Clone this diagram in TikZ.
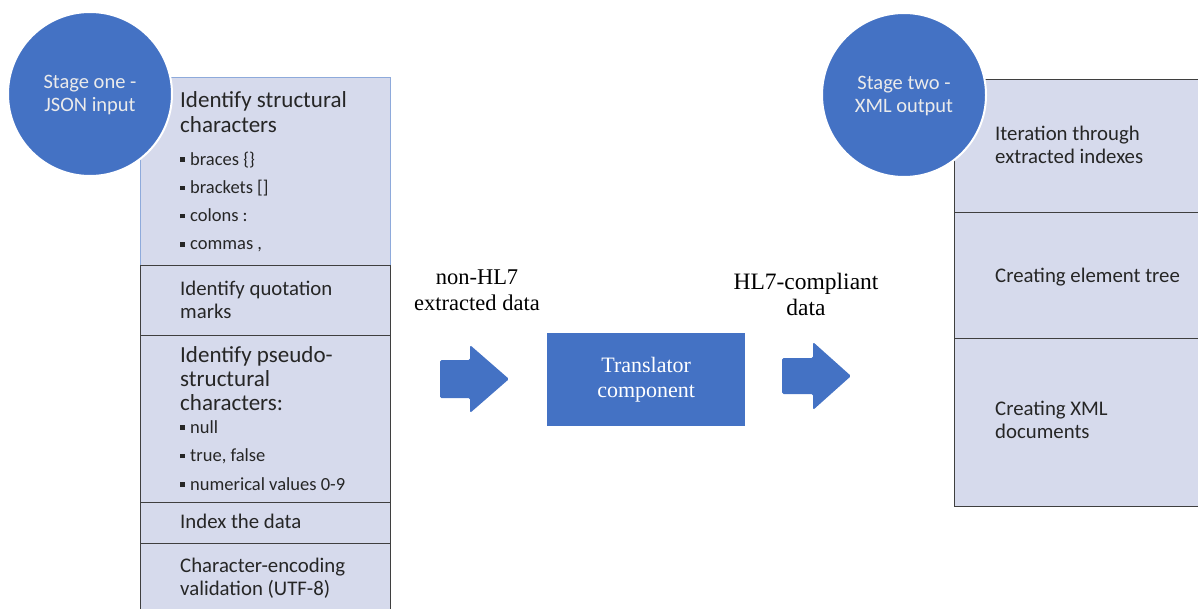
\documentclass[tikz,border=0pt]{standalone}
\usepackage{fontspec}
\setmainfont{Carlito}
\newfontfamily\timesf{Liberation Serif}
\definecolor{cblue}{HTML}{4472C4}
\definecolor{boxfill}{HTML}{D6DAEC}
\definecolor{boxline}{HTML}{3F3F3F}
\definecolor{lblue}{HTML}{8EAADB}
\definecolor{txt}{HTML}{262626}
\newcommand\bul{\rule[0.18em]{0.24em}{0.24em}\hspace{0.3em}}
\begin{document}
\begin{tikzpicture}[x=1pt,y=-1pt,
  sec/.style={draw=boxline, line width=1.4pt, fill=boxfill, rectangle, inner sep=0pt, anchor=north west},
  secblue/.style={sec, draw=lblue},
  stagecirc/.style={circle, fill=cblue, draw=white, line width=2pt, minimum size=164pt, inner sep=0pt},
  ctext/.style={text=white!92!black, font=\fontsize{20.5}{23}\selectfont, align=center},
  lbl/.style={inner sep=0pt, anchor=base west, text=txt},
  serif/.style={font=\timesf\fontsize{22.5}{26}\selectfont, align=center, text=black},
  blockarrow/.style={fill=cblue, rounded corners=1.5pt}
]
\useasboundingbox (0,0) rectangle (1198,608);
\clip (0,0) rectangle (1198,608);

% left column
\node[secblue, minimum width=250pt, minimum height=188pt] (s1) at (140,77) {};
\node[sec, minimum width=250pt, minimum height=70pt] (s2) at (140,265) {};
\node[sec, minimum width=250pt, minimum height=167pt] (s3) at (140,335) {};
\node[sec, minimum width=250pt, minimum height=41pt] (s4) at (140,502) {};
\node[sec, minimum width=250pt, minimum height=75pt] (s5) at (140,543) {};

\node[lbl, font=\fontsize{23}{25}\selectfont] (t1) at (180,107)
  {\vtop{\hbox{Identify structural}\hbox{characters}}};
\node[lbl, font=\fontsize{18.5}{28.3}\selectfont] (t1b) at (180,165)
  {\vtop{\hbox{\bul braces \{\}}\hbox{\bul brackets []}\hbox{\bul colons :}\hbox{\bul commas ,}}};
\node[lbl, font=\fontsize{20.8}{23}\selectfont] (t2) at (180,295)
  {\vtop{\hbox{Identify quotation}\hbox{marks}}};
\node[lbl, font=\fontsize{23}{24}\selectfont] (t3) at (180,362)
  {\vtop{\hbox{Identify pseudo-}\hbox{structural}\hbox{characters:}}};
\node[lbl, font=\fontsize{18.5}{28.5}\selectfont] (t3b) at (180,433)
  {\vtop{\hbox{\bul null}\hbox{\bul true, false}\hbox{\bul numerical values 0-9}}};
\node[lbl, font=\fontsize{20.8}{23}\selectfont] (t4) at (180,528) {Index the data};
\node[lbl, font=\fontsize{20.8}{23}\selectfont] (t5) at (180,572)
  {\vtop{\hbox{Character-encoding}\hbox{validation (UTF-8)}}};

\node[stagecirc] (c1) at (90,94) {};
\node[ctext] (c1t) at (90,95) {Stage one -\\JSON input};

% right column
\node[sec, minimum width=260pt, minimum height=133pt] (r1) at (954,79) {};
\node[sec, minimum width=260pt, minimum height=126pt] (r2) at (954,212) {};
\node[sec, minimum width=260pt, minimum height=168pt] (r3) at (954,338) {};

\node[lbl, font=\fontsize{20.8}{23}\selectfont] (u1) at (995,140)
  {\vtop{\hbox{Iteration through}\hbox{extracted indexes}}};
\node[lbl, font=\fontsize{20.8}{23}\selectfont] (u2) at (995,282) {Creating element tree};
\node[lbl, font=\fontsize{20.8}{23}\selectfont] (u3) at (995,415)
  {\vtop{\hbox{Creating XML}\hbox{documents}}};

\node[stagecirc] (c2) at (904,95) {};
\node[ctext] (c2t) at (904,96) {Stage two -\\XML output};

% middle
\node[fill=cblue, minimum width=198pt, minimum height=93pt, inner sep=0pt, anchor=north west] (tr) at (547,333) {};
\node[serif, text=white, font=\timesf\fontsize{22}{25}\selectfont] (trt) at (tr.center) {Translator\\component};

\fill[blockarrow] (440,360) -- (470,360) -- (470,345) -- (509,379) -- (470,413) -- (470,398) -- (440,398) -- cycle;
\fill[blockarrow] (782,358) -- (813,358) -- (813,342) -- (851,376) -- (813,410) -- (813,394) -- (782,394) -- cycle;

\node[serif] (l1) at (477,290) {non-HL7\\extracted data};
\node[serif, font=\timesf\fontsize{23.5}{26}\selectfont] (l2) at (806,294) {HL7-compliant\\data};
\end{tikzpicture}
\end{document}
